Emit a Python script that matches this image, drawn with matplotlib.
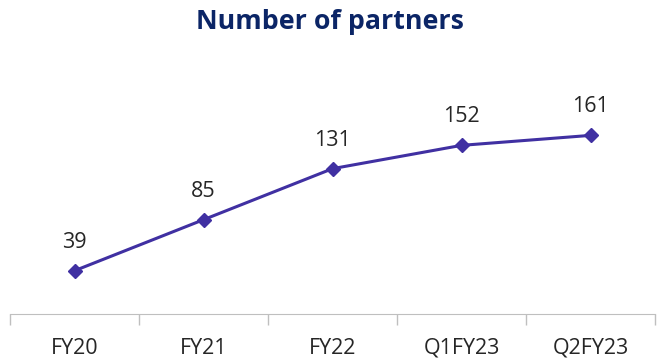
import matplotlib.pyplot as plt
import numpy as np

categories = ["FY20", "FY21", "FY22", "Q1FY23", "Q2FY23"]
partners = [39, 85, 131, 152, 161]

line_color = "#4030A2"
title_color = "#0B2566"
text_color = "#262626"

fig = plt.figure(figsize=(6.59, 3.63), dpi=100)
ax = fig.add_axes([10 / 659, 1 - 314 / 363, 645 / 659, 223 / 363])

x = np.arange(len(categories))
ax.plot(x, partners, color=line_color, linewidth=2.2, marker="D", markersize=7)

for xi, v in zip(x, partners):
    ax.annotate(str(v), (xi, v), xytext=(0, 16.5), textcoords="offset points",
                ha="center", va="baseline", fontsize=15.5, color=text_color,
                family="Open Sans")

ax.set_xlim(-0.5, len(categories) - 0.5)
ax.set_ylim(0, 201)
ax.set_yticks([])
ax.set_xticks(np.arange(-0.5, len(categories), 1.0), minor=False)
ax.set_xticklabels([])
ax.set_xticks(x, minor=True)
ax.set_xticklabels(categories, minor=True, fontsize=15.5, color=text_color,
                   family="Open Sans")
ax.tick_params(axis="x", which="major", length=8, color="#BFBFBF", width=1)
ax.tick_params(axis="x", which="minor", length=0, pad=17)

for side in ["top", "right", "left"]:
    ax.spines[side].set_visible(False)
ax.spines["bottom"].set_color("#BFBFBF")

fig.text(0.5, 1 - 22 / 363, "Number of partners", ha="center", va="center",
         fontsize=19.3, fontweight="bold", color=title_color, family="Open Sans")

fig.savefig("out.png", dpi=100)
